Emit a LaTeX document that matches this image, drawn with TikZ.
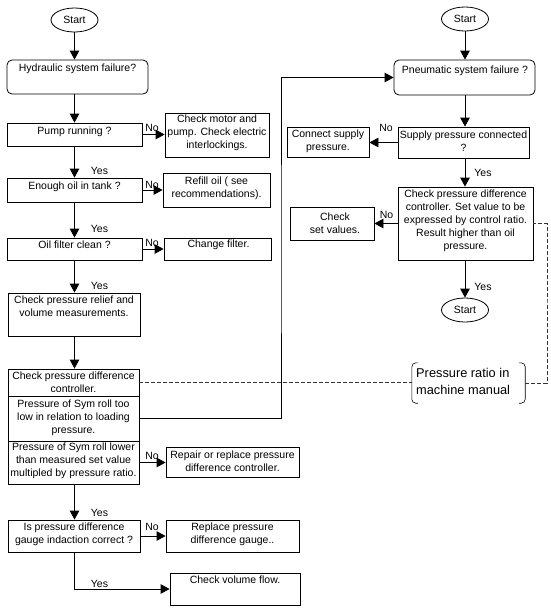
\documentclass[tikz,border=0pt]{standalone}
\usepackage{fontspec}
\setmainfont{Liberation Sans}
\usetikzlibrary{arrows.meta,shapes.geometric}
\tikzset{
  box/.style={draw, line width=0.8pt, inner sep=0pt},
  rbox/.style={box, rounded corners=5pt},
  txt/.style={font=\fontsize{10.5}{13}\selectfont, align=center, inner sep=0pt},
  lbl/.style={font=\fontsize{10.5}{13}\selectfont, inner sep=0pt},
  arr/.style={line width=0.8pt, -{Triangle[length=9pt,width=9.5pt]}},
  conn/.style={line width=0.8pt},
  dashline/.style={line width=0.8pt, dash pattern=on 4pt off 2pt, black!80},
  startnode/.style={draw, ellipse, line width=0.8pt, minimum width=47pt, minimum height=24pt, inner sep=0pt, font=\fontsize{10.5}{13}\selectfont},
}
\begin{document}
\begin{tikzpicture}[x=1pt,y=-1pt]
\path[use as bounding box, fill=white] (0,0) rectangle (550,614);
\coordinate (colL) at (74.5,0);
\coordinate (colR) at (465,0);
\coordinate (riser) at (281,250);
\coordinate (dcorner) at (547,300);

% ---------------- left column ----------------
\node[startnode] (s1) at (74.5,20) {Start};

\node[rbox, minimum width=141pt, minimum height=34pt] (hyd) at (77.5,77) {};
\node[txt] (hydt) at (77.5,69) {Hydraulic system failure?};

\node[box, minimum width=135pt, minimum height=23pt] (pump) at (74.5,134.5) {};
\node[txt] (pumpt) at (74.5,131.5) {Pump running ?};

\node[box, minimum width=104pt, minimum height=44pt] (motor) at (217,135) {};
\node[txt] (motort) at (217,133) {Check motor and\\pump. Check electric\\interlockings.};

\node[box, minimum width=135pt, minimum height=24pt] (oil) at (74.5,190) {};
\node[txt] (oilt) at (74.5,186.5) {Enough oil in tank ?};

\node[box, minimum width=107pt, minimum height=34pt] (refill) at (216.5,190) {};
\node[txt] (refillt) at (216.5,188.5) {Refill oil ( see\\recommendations).};

\node[box, minimum width=135pt, minimum height=22pt] (filter) at (74.5,249) {};
\node[txt] (filtert) at (74.5,244.5) {Oil filter clean ?};

\node[box, minimum width=107pt, minimum height=22pt] (change) at (217.5,249) {};
\node[txt] (changet) at (218.5,244.5) {Change filter.};

\node[box, minimum width=132pt, minimum height=43pt] (relief) at (74,314.5) {};
\node[txt] (relieft) at (74,306) {Check pressure relief and\\volume measurements.};

\node[box, minimum width=131pt, minimum height=27pt] (ctrl) at (73.5,382.5) {};
\node[txt] (ctrlt) at (73.5,382) {Check pressure difference\\controller.};

\node[box, minimum width=131pt, minimum height=45pt] (symlow) at (73.5,418.5) {};
\node[txt] (symlowt) at (73.5,417.5) {Pressure of Sym roll too\\low in relation to loading\\pressure.};

\node[box, minimum width=131pt, minimum height=43pt] (symlower) at (73.5,462.5) {};
\node[txt] (symlowert) at (73.5,461) {Pressure of Sym roll lower\\than measured set value\\multipled by pressure ratio.};

\node[box, minimum width=133pt, minimum height=30pt] (repair) at (232.5,462) {};
\node[txt] (repairt) at (232.5,461) {Repair or replace pressure\\difference controller.};

\node[box, minimum width=132pt, minimum height=32pt] (gauge) at (74,536) {};
\node[txt] (gauget) at (74,534) {Is pressure difference\\gauge indaction correct ?};

\node[box, minimum width=133pt, minimum height=32pt] (replace) at (232.5,536) {};
\node[txt] (replacet) at (232.5,534) {Replace pressure\\difference gauge..};

\node[box, minimum width=130pt, minimum height=32pt] (volume) at (235,589) {};
\node[txt] (volumet) at (235,580) {Check volume flow.};

% ---------------- right column ----------------
\node[startnode] (s2) at (465,19) {Start};

\node[rbox, minimum width=141pt, minimum height=35pt] (pneu) at (464.5,77.5) {};
\node[txt] (pneut) at (465,71) {Pneumatic system failure ?};

\node[box, minimum width=131pt, minimum height=31pt] (supply) at (463.5,142.5) {};
\node[txt] (supplyt) at (463.5,141.5) {Supply pressure connected\\?};

\node[box, minimum width=82pt, minimum height=30pt] (connect) at (328,142) {};
\node[txt] (connectt) at (328,141.5) {Connect supply\\pressure.};

\node[box, minimum width=135pt, minimum height=73pt] (check2) at (465.5,223.5) {};
\node[txt] (check2t) at (465.5,220.5) {Check pressure difference\\controller. Set value to be\\expressed by control ratio.\\Result higher than oil\\pressure.};

\node[box, minimum width=84pt, minimum height=33pt] (setval) at (332,223.5) {};
\node[txt] (setvalt) at (335,223.5) {Check\\set values.};

\node[startnode] (s3) at (465,310) {Start};

\node[minimum width=113pt, minimum height=40pt, inner sep=0pt] (ratio) at (468.5,383) {};
\node[font=\fontsize{12.8}{17}\selectfont, align=left, anchor=west, inner sep=0pt] (ratiot) at (416,381.5) {Pressure ratio in\\machine manual};
\draw[line width=0.6pt, rounded corners=4pt] ([xshift=6pt]ratio.north west) -- (ratio.north west) -- (ratio.south west) -- ([xshift=6pt]ratio.south west);
\draw[line width=0.6pt, rounded corners=4pt] ([xshift=-6pt]ratio.north east) -- (ratio.north east) -- (ratio.south east) -- ([xshift=-6pt]ratio.south east);

% ---------------- connectors ----------------
\draw[arr] (s1.south) -- (s1.south |- hyd.north);
\draw[arr] (hyd.south -| colL) -- (pump.north -| colL);
\draw[arr] (pump.south -| colL) -- (oil.north -| colL);
\draw[arr] (oil.south -| colL) -- (filter.north -| colL);
\draw[arr] (filter.south -| colL) -- (relief.north -| colL);
\draw[arr] (relief.south -| colL) -- (ctrl.north -| colL);
\draw[arr] (symlower.south -| colL) -- (gauge.north -| colL);
\draw[arr] (gauge.south -| colL) |- (volume.west);

\draw[arr] (pump.east) -- (motor.west |- pump.east);
\draw[arr] (oil.east) -- (refill.west |- oil.east);
\draw[arr] (filter.east) -- (change.west |- filter.east);
\draw[arr] (symlower.east) -- (repair.west |- symlower.east);
\draw[arr] (gauge.east) -- (replace.west |- gauge.east);

\draw[arr] (symlow.east) -| (riser) |- (pneu.west);

\draw[arr] (s2.south) -- (s2.south |- pneu.north);
\draw[arr] (pneu.south -| colR) -- (supply.north -| colR);
\draw[arr] (supply.south -| colR) -- (check2.north -| colR);
\draw[arr] (check2.south -| colR) -- (s3.north);
\draw[arr] (supply.west) -- (connect.east |- supply.west);
\draw[arr] (check2.west) -- (setval.east |- check2.west);

\draw[dashline] (ctrl.east) -- (ctrl.east -| ratio.west);
\draw[dashline] (ratio.east) -| (dcorner) |- (check2.east);

% ---------------- labels ----------------
\node[lbl] (no1) at (152,128) {No};
\node[lbl] (no2) at (152,185) {No};
\node[lbl] (no3) at (152,242.5) {No};
\node[lbl] (no4) at (152,456) {No};
\node[lbl] (no5) at (152,526.5) {No};
\node[lbl] (no6) at (386,128) {No};
\node[lbl] (no7) at (386.5,214.5) {No};
\node[lbl] (yes1) at (99.5,171) {Yes};
\node[lbl] (yes2) at (99.5,229) {Yes};
\node[lbl] (yes3) at (99.5,286) {Yes};
\node[lbl] (yes4) at (99.5,512.5) {Yes};
\node[lbl] (yes5) at (99.5,583.5) {Yes};
\node[lbl] (yes6) at (483,173) {Yes};
\node[lbl] (yes7) at (483,286.5) {Yes};
\end{tikzpicture}
\end{document}
